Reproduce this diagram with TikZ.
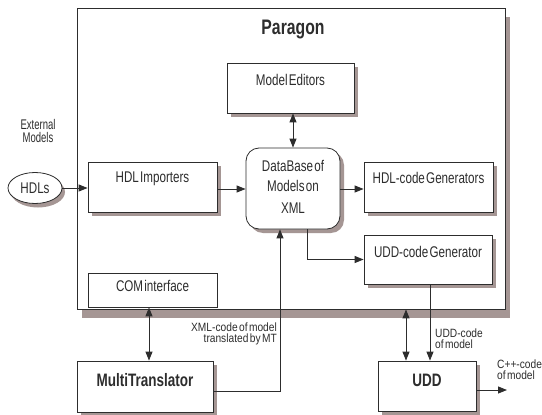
\documentclass[tikz,border=0pt]{standalone}
\usepackage{fontspec}
\setmainfont{Liberation Sans}
\newfontfamily\nf[FakeStretch=0.75,WordSpace=0.4]{Liberation Sans}
\newfontfamily\nfs[FakeStretch=0.85,WordSpace=0.5]{Liberation Sans}
\newfontfamily\nfe[FakeStretch=0.68]{Liberation Sans}
\usetikzlibrary{shadows,arrows.meta,shapes.geometric,calc}
\definecolor{ink}{RGB}{45,45,45}
\definecolor{shad}{RGB}{165,150,148}
\tikzset{
  box/.style={draw=ink, line width=0.8pt, fill=white, rectangle, inner sep=0pt,
    drop shadow={shadow xshift=4pt, shadow yshift=-4pt, fill=shad, opacity=1}},
  txt/.style={text=ink, inner sep=0pt, font=\nf\fontsize{15.5}{17}\selectfont},
  btxt/.style={text=ink, inner sep=0pt, font=\nf\bfseries\fontsize{18}{20}\selectfont},
  small/.style={text=ink, inner sep=0pt, font=\nfs\fontsize{12}{11}\selectfont},
  arr/.style={draw=ink, line width=0.9pt, -{Triangle[length=9pt,width=7pt]}},
  darr/.style={draw=ink, line width=0.9pt, {Triangle[length=9pt,width=7pt]}-{Triangle[length=9pt,width=7pt]}},
}
\begin{document}
\begin{tikzpicture}[x=1pt,y=-1pt]
\useasboundingbox (0,0) rectangle (542,415);
% Paragon frame
\node[draw=ink, line width=0.8pt, fill=white, minimum width=428pt, minimum height=301pt, inner sep=0pt,
  drop shadow={shadow xshift=5pt, shadow yshift=-9pt, fill=shad, opacity=1}] (par) at (291,158.5) {};
\node[text=ink, font=\nf\bfseries\fontsize{21}{22}\selectfont, inner sep=0pt] (ptitle) at (293,30) {Paragon};
% boxes
\node[box, minimum width=127pt, minimum height=50pt] (me) at (290.5,88) {};
\node[txt] (met) at (290.5,80) {Model Editors};
\node[box, minimum width=129pt, minimum height=50pt] (imp) at (152.5,187) {};
\node[txt] (impt) at (152.5,179) {HDL Importers};
\node[box, rounded corners=13pt, minimum width=94pt, minimum height=81pt] (db) at (293,188.5) {};
\node[txt] (dbt1) at (293,166) {DataBase of};
\node[txt] (dbt2) at (293,186) {Models on};
\node[txt] (dbt3) at (293,208) {XML};
\node[box, minimum width=129pt, minimum height=50pt] (hcg) at (428.5,187) {};
\node[txt] (hcgt) at (428.5,178) {HDL-code Generators};
\node[box, minimum width=128pt, minimum height=49pt] (ucg) at (428,259.5) {};
\node[txt] (ucgt) at (428,252) {UDD-code Generator};
\node[draw=ink, line width=0.8pt, fill=white, inner sep=0pt, minimum width=129pt, minimum height=34pt] (com) at (152.5,290) {};
\node[txt] (comt) at (152.5,286) {COM interface};
\node[box, minimum width=136pt, minimum height=51pt] (mt) at (145,386.5) {};
\node[btxt] (mtt) at (145,380) {MultiTranslator};
\node[box, minimum width=98pt, minimum height=50pt] (udd) at (427,386) {};
\node[btxt] (uddt) at (427,380) {UDD};
% HDLs ellipse
\node[ellipse, draw=ink, line width=0.8pt, fill=white, minimum width=54pt, minimum height=31pt, inner sep=0pt,
  drop shadow={shadow xshift=3pt, shadow yshift=-4pt, fill=shad, opacity=1}] (hdl) at (35,188) {};
\node[txt] (hdlt) at (35,188) {HDLs};
\node[text=ink, inner sep=0pt, align=center, font=\nfe\fontsize{14}{13}\selectfont] (ext) at (38,131) {External\\Models};
% labels
\node[small, align=right, anchor=east] (xmll) at (277,334) {XML-code of model\\translated by MT};
\node[small, align=left, anchor=west] (uddl) at (435,339) {UDD-code\\of model};
\node[small, align=left, anchor=west] (cppl) at (497,370) {C++-code\\of model};
\coordinate (cout) at (507,390);
% connectors
\draw[arr] (hdl.east) -- (hdl.east -| imp.west);
\draw[arr] (imp.east |- 0,189) -- (db.west |- 0,189);
\draw[arr] (db.east |- 0,189) -- (hcg.west |- 0,189);
\draw[darr] (db.north) -- (db.north |- me.south);
\draw[arr] ([xshift=14pt]db.south) |- (ucg.west);
\draw[darr] ([xshift=-3.5pt]com.south) -- ([xshift=4pt]mt.north);
\draw[arr] ([yshift=-4.5pt]mt.east) -| ([xshift=-13pt]db.south);
\draw[darr] ([xshift=-21pt]udd.north |- par.south) -- ([xshift=-21pt]udd.north);
\draw[arr] ([xshift=2pt]ucg.south) -- ([xshift=3pt]udd.north);
\draw[arr] (udd.east |- cout) -- (cout);
\end{tikzpicture}
\end{document}
